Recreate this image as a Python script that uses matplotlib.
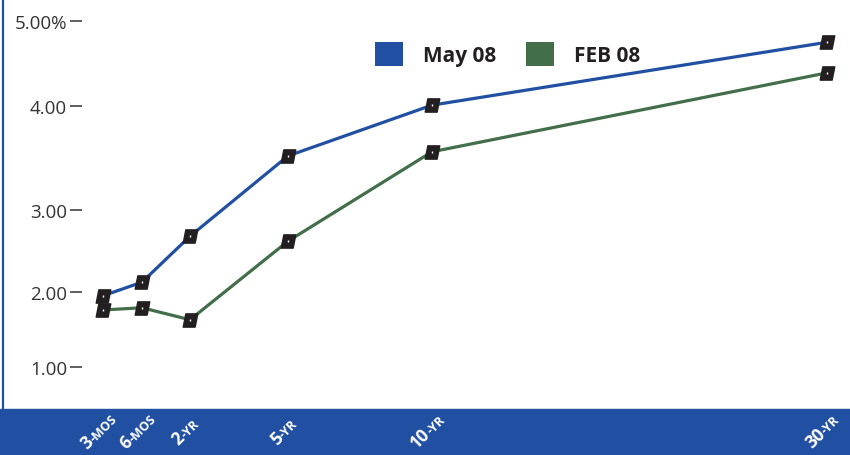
import matplotlib.pyplot as plt
import numpy as np
from matplotlib.path import Path
from matplotlib.patches import Rectangle, Patch
from matplotlib.lines import Line2D
from matplotlib.transforms import IdentityTransform

# rendimientos por plazo
plazos = ["3", "6", "2", "5", "10", "30"]
sufijos = ["-MOS", "-MOS", "-YR", "-YR", "-YR", "-YR"]
may_08 = [1.95, 2.12, 2.68, 3.52, 4.01, 4.75]
feb_08 = [1.76, 1.79, 1.63, 2.62, 3.56, 4.39]
y_ticks = [1.0, 2.0, 3.0, 4.0, 5.0]
y_labels = ["1.00", "2.00", "3.00", "4.00", "5.00%"]

# posiciones horizontales de cada plazo (pixeles desde la izquierda)
x_pos = [103, 142, 190, 288, 432, 827]
# el eje y no es uniforme: altura en pixeles (desde la base del eje) de cada marca
y_tick_px = [42, 117, 199, 303, 388]

AZUL = "#2150a3"
VERDE = "#426e4a"
TEXTO = "#333333"
NEGRITA = ['Open Sans', 'DejaVu Sans']

W, H = 850, 456
BANDA = 46

plt.rcParams['font.family'] = ['Open Sans', 'DejaVu Sans']

# escala por tramos con extrapolacion en los extremos
vals = np.array([0.0] + y_ticks + [6.0])
px = np.array([y_tick_px[0] - (y_tick_px[1] - y_tick_px[0])] + y_tick_px
              + [y_tick_px[-1] + (y_tick_px[-1] - y_tick_px[-2])])


def adelante(v):
    return np.interp(v, vals, px)


def atras(p):
    return np.interp(p, px, vals)


fig = plt.figure(figsize=(W / 100, H / 100), dpi=100)
ax = fig.add_axes([70 / W, BANDA / H, (W - 70) / W, (H - BANDA) / H])
ax.set_yscale('function', functions=(adelante, atras))
ax.set_xlim(70, W)
ax.set_ylim(float(atras(0)), float(atras(H - BANDA)))

# marcador: paralelogramo negro
marca = Path([(-0.55, -0.5), (0.35, -0.5), (0.55, 0.5), (-0.35, 0.5), (-0.55, -0.5)],
             [Path.MOVETO, Path.LINETO, Path.LINETO, Path.LINETO, Path.CLOSEPOLY])

for serie, color in [(may_08, AZUL), (feb_08, VERDE)]:
    ax.plot(x_pos, serie, color=color, lw=2.3, zorder=2)
    ax.plot(x_pos, serie, ls='none', marker=marca, ms=10.5, mfc='#231f20',
            mec='#231f20', zorder=3)
    ax.plot(x_pos, serie, ls='none', marker='|', ms=2, mew=1, color='white', zorder=4)

for lado in ['left', 'right', 'top', 'bottom']:
    ax.spines[lado].set_visible(False)
ax.set_xticks([])
ax.set_yticks(y_ticks)
ax.set_yticklabels(y_labels)
ax.yaxis.set_minor_locator(plt.NullLocator())
ax.tick_params(axis='y', direction='in', length=8.6, width=1.1, color=TEXTO,
               labelcolor=TEXTO, labelsize=13.5, pad=2.2)

# banda inferior y linea izquierda
fig.patches.append(Rectangle((0, 0), 1, BANDA / H, transform=fig.transFigure,
                             color=AZUL, zorder=0))
fig.lines.append(Line2D([2.5 / W, 2.5 / W], [BANDA / H, 1], transform=fig.transFigure,
                        color=AZUL, lw=1.6))

# leyenda
manejos = [Patch(facecolor=AZUL, edgecolor='none', label='May 08'),
           Patch(facecolor=VERDE, edgecolor='none', label='FEB 08')]
ax.legend(handles=manejos, loc='center left', bbox_to_anchor=(375 / W, 1 - 55 / H),
          bbox_transform=fig.transFigure, ncol=2, frameon=False, borderpad=0,
          borderaxespad=0, handlelength=1.35, handleheight=1.35, handletextpad=0.95,
          columnspacing=1.44, prop={'size': 15, 'weight': 'bold', 'family': NEGRITA},
          labelcolor='#231f20')

# etiquetas de plazo, giradas, con el sufijo mas chico
fig.canvas.draw()
renderer = fig.canvas.get_renderer()
c, s = np.cos(np.deg2rad(45)), np.sin(np.deg2rad(45))
T_NUM, T_SUF = 12.5, 9


def ancho(texto, size):
    t = fig.text(0, 0, texto, fontsize=size, fontweight='bold', family=NEGRITA)
    w = t.get_window_extent(renderer).width
    t.remove()
    return w


for xp, num, suf in zip(x_pos, plazos, sufijos):
    w1 = ancho(num, T_NUM)
    w2 = ancho(suf, T_SUF)
    largo = w1 + w2
    cx = ax.transData.transform((xp, 3.0))[0] - 5
    cy = H - 431
    h = 12
    x0 = cx - largo / 2 * c + h / 2 * s
    y0 = cy - largo / 2 * s - h / 2 * c
    fig.text(x0, y0, num, transform=IdentityTransform(), rotation=45,
             rotation_mode='anchor', ha='left', va='baseline', fontsize=T_NUM,
             fontweight='bold', family=NEGRITA, color='white')
    fig.text(x0 + w1 * c, y0 + w1 * s, suf, transform=IdentityTransform(), rotation=45,
             rotation_mode='anchor', ha='left', va='baseline', fontsize=T_SUF,
             fontweight='bold', family=NEGRITA, color='white')

fig.savefig("out.png", dpi=100)
